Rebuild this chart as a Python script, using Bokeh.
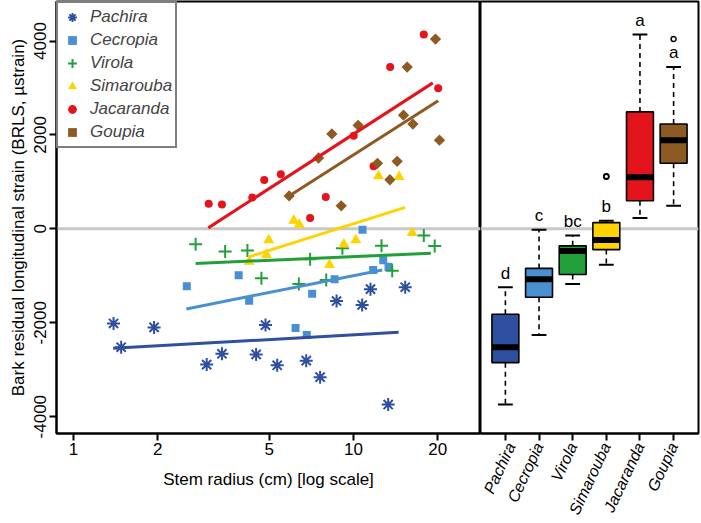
import numpy as np
from bokeh.plotting import figure
from bokeh.layouts import row
from bokeh.models import Range1d, FixedTicker, NumeralTickFormatter, Span
from bokeh.core.properties import value
from bokeh.embed import file_html
from bokeh.resources import INLINE

species = ["Pachira", "Cecropia", "Virola", "Simarouba", "Jacaranda", "Goupia"]
colors = ["#2F4F9F", "#4A8FD0", "#21A03A", "#FFD200", "#E3141B", "#8E5A24"]
letters = ["d", "c", "bc", "b", "a", "a"]

pachira_r = [1.39, 1.48, 1.94, 2.99, 3.39, 4.85, 4.49, 5.34, 6.78, 7.6, 8.7, 10.74, 11.5, 15.3, 13.3]
pachira_v = [-2015, -2520, -2099, -2891, -2660, -2049, -2674, -2905, -2807, -3158, -1537, -1621, -1284, -1242, -3741]
cecropia_r = [2.54, 3.89, 4.24, 6.21, 6.81, 7.12, 8.56, 10.77, 11.76, 12.77, 13.34]
cecropia_v = [-1221, -989, -1530, -2112, -2260, -1382, -1074, -21, -877, -667, -807]
virola_r = [2.73, 3.48, 4.18, 4.69, 6.38, 7.0, 7.99, 9.13, 12.59, 13.75, 17.83, 19.5]
virola_v = [-330, -480, -460, -1053, -1172, -646, -1088, -414, -358, -891, -140, -365]
simarouba_r = [6.12, 6.4, 4.98, 4.89, 4.24, 8.21, 9.24, 10.19, 16.2, 12.28, 14.56]
simarouba_v = [175, 91, -238, -554, -695, -765, -330, -238, -84, 1122, 1109]
jacaranda_r = [3.04, 3.39, 4.35, 4.8, 5.5, 7.0, 7.96, 10.02, 11.79, 13.52, 17.83, 20.07]
jacaranda_v = [533, 520, 667, 1038, 1164, 232, 680, 1985, 1333, 3446, 4141, 2996]
goupia_r = [5.89, 7.5, 8.37, 9.04, 10.39, 12.18, 13.49, 14.32, 15.09, 16.3, 15.55, 19.63, 20.28]
goupia_v = [701, 1509, 2021, 491, 2204, 1396, 1046, 1438, 2421, 2232, 3446, 4042, 1888]

fit_intercept = [-2588, -2182, -850, -1777, -1833, -2234]
fit_slope = [330.5, 1184, 259.4, 1886, 3851, 3811]
fit_lo = [1.386, 2.53, 2.73, 4.23, 3.03, 5.89]
fit_hi = [14.5, 12.66, 18.9, 15.3, 19.2, 20.07]

x_ticks = [1, 2, 5, 10, 20]
y_ticks = [-4000, -2000, 0, 2000, 4000]
y_tick_labels = ["-4000", "-2000", "0", "2000", "4000"]

radii = [pachira_r, cecropia_r, virola_r, simarouba_r, jacaranda_r, goupia_r]
strains = [pachira_v, cecropia_v, virola_v, simarouba_v, jacaranda_v, goupia_v]

FONT = "Liberation Sans"
FS = "17px"
H = 523
BOTTOM = 85

yr = Range1d(-4358, 4842)

p1 = figure(width=480, height=H, x_axis_type="log", x_range=Range1d(0.8695, 28.42),
            y_range=yr, output_backend="svg", toolbar_location=None,
            min_border_left=56, min_border_right=0, min_border_top=1,
            min_border_bottom=BOTTOM)
p2 = figure(width=220, height=H, x_range=Range1d(0.26, 6.74), y_range=yr,
            output_backend="svg", toolbar_location=None, y_axis_location=None,
            min_border_left=0, min_border_right=2, min_border_top=1,
            min_border_bottom=BOTTOM)

for p in (p1, p2):
    p.grid.visible = False
    p.outline_line_color = "black"
    p.outline_line_width = 2
    p.background_fill_color = "white"
    p.border_fill_color = "white"
    p.add_layout(Span(location=0, dimension="width", line_color="#C8C8C8",
                      line_width=3, level="underlay"))
    for ax in p.axis:
        ax.axis_line_color = "black"
        ax.axis_line_width = 2
        ax.major_tick_line_color = "black"
        ax.major_tick_line_width = 2
        ax.major_tick_out = 7
        ax.major_tick_in = 0
        ax.minor_tick_line_color = None
        ax.major_label_text_font = FONT
        ax.major_label_text_font_size = FS
        ax.major_label_text_color = "black"
        ax.axis_label_text_font = FONT
        ax.axis_label_text_font_size = FS
        ax.axis_label_text_font_style = "normal"
        ax.axis_label_text_color = "black"

# ---- left panel: scatter + fitted lines
styles = [
    dict(marker="asterisk", size=13, line_width=2, fill_color=None),
    dict(marker="square", size=8, line_width=0),
    dict(marker="cross", size=13, line_width=2, fill_color=None),
    dict(marker="triangle", size=11, line_width=0),
    dict(marker="circle", size=8, line_width=0),
    dict(marker="square", size=8, line_width=0, angle=np.pi / 4),
]
for name, col, st, r, v in zip(species, colors, styles, radii, strains):
    kw = dict(st)
    if "fill_color" not in kw:
        kw["fill_color"] = col
    p1.scatter(r, v, line_color=col, legend_label=name, **kw)

for col, a, b, lo, hi in zip(colors, fit_intercept, fit_slope, fit_lo, fit_hi):
    xs = np.array([lo, hi])
    p1.line(xs, a + b * np.log10(xs), line_color=col, line_width=3)

p1.xaxis.ticker = FixedTicker(ticks=x_ticks)
p1.xaxis.formatter = NumeralTickFormatter(format="0")
p1.xaxis.axis_label = "Stem radius (cm) [log scale]"
p1.xaxis.major_label_standoff = 2
p1.xaxis.axis_label_standoff = 12
p1.yaxis.ticker = FixedTicker(ticks=y_ticks)
p1.yaxis.major_label_overrides = {t: s for t, s in zip(y_ticks, y_tick_labels)}
p1.yaxis.major_label_orientation = "vertical"
p1.yaxis.major_label_standoff = 3
p1.yaxis.axis_label = "Bark residual longitudinal strain (BRLS, \u00b5strain)"
p1.yaxis.axis_label_standoff = 4

lg = p1.legend[0]
lg.location = "top_left"
lg.margin = 0
lg.padding = 3
lg.spacing = 1
lg.glyph_width = 22
lg.glyph_height = 22
lg.label_height = 22
lg.label_standoff = 7
lg.label_text_font = FONT
lg.label_text_font_size = FS
lg.label_text_font_style = "italic"
lg.border_line_color = "black"
lg.border_line_width = 2
lg.background_fill_alpha = 1

# ---- right panel: box plots
def fivenum(x):
    x = np.sort(np.asarray(x, dtype=float))
    n = len(x)
    n4 = np.floor((n + 3) / 2) / 2
    d = np.array([1, n4, (n + 1) / 2, n + 1 - n4, n])
    return 0.5 * (x[np.floor(d).astype(int) - 1] + x[np.ceil(d).astype(int) - 1])

pos = np.arange(1, len(species) + 1)
q1s, meds, q3s, los, his = [], [], [], [], []
out_x, out_y = [], []
for i, v in enumerate(strains):
    f = fivenum(v)
    iqr = f[3] - f[1]
    arr = np.asarray(v, dtype=float)
    inside = arr[(arr >= f[1] - 1.5 * iqr) & (arr <= f[3] + 1.5 * iqr)]
    q1s.append(f[1]); meds.append(f[2]); q3s.append(f[3])
    los.append(inside.min()); his.append(inside.max())
    for o in arr[(arr < f[1] - 1.5 * iqr) | (arr > f[3] + 1.5 * iqr)]:
        out_x.append(pos[i]); out_y.append(o)

bw = 0.8
cw = 0.44
p2.segment(pos, q3s, pos, his, line_color="black", line_width=1.6, line_dash="5 4")
p2.segment(pos, q1s, pos, los, line_color="black", line_width=1.6, line_dash="5 4")
p2.segment(pos - cw / 2, his, pos + cw / 2, his, line_color="black", line_width=2)
p2.segment(pos - cw / 2, los, pos + cw / 2, los, line_color="black", line_width=2)
p2.vbar(x=pos, width=bw, top=q3s, bottom=q1s, fill_color=colors, line_color="black",
        line_width=1.6)
p2.segment(pos - bw / 2, meds, pos + bw / 2, meds, line_color="black", line_width=6,
           line_cap="butt")
p2.scatter(out_x, out_y, marker="circle", size=5, fill_color=None, line_color="black",
           line_width=1.5)
p2.text(x=pos, y=np.array(his) + 300, text=letters, text_font=value(FONT),
        text_font_size=FS, text_align="center", text_baseline="middle", text_color="black")

p2.xaxis.ticker = FixedTicker(ticks=list(pos))
p2.xaxis.major_label_overrides = {int(k): s for k, s in zip(pos, species)}
p2.xaxis.major_label_orientation = 65 * np.pi / 180
p2.xaxis.major_label_text_font_style = "italic"
p2.xaxis.major_label_text_font_size = "16px"
p2.xaxis.major_label_standoff = 3

layout = row(p1, p2)
open("out.html", "w").write(file_html(layout, INLINE))
